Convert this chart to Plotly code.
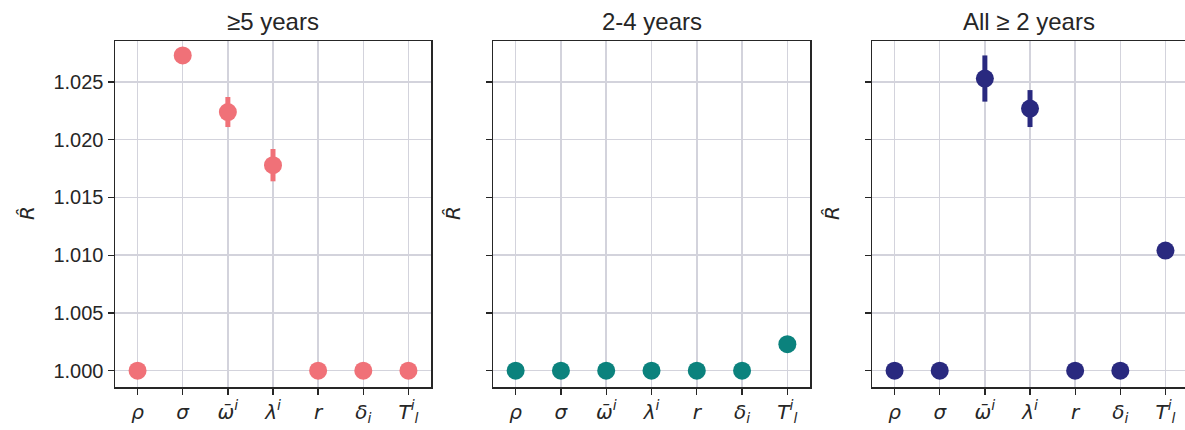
import plotly.graph_objects as go

params = ["<i>ρ</i>", "<i>σ</i>", "<i>ω̄<sup>i</sup></i>", "<i>λ<sup>i</sup></i>",
          "<i>r</i>", "<i>δ<sub>i</sub></i>", "<i>T<sup>i</sup><sub>l</sub></i>"]
panel_titles = ["≥5 years", "2-4 years", "All ≥ 2 years"]

rhat_5plus = [1.0000, 1.0273, 1.0224, 1.0178, 1.0000, 1.0000, 1.0000]
err_5plus = [0.0, 0.0, 0.0013, 0.0014, 0.0, 0.0, 0.0]
rhat_2to4 = [1.0000, 1.0000, 1.0000, 1.0000, 1.0000, 1.0000, 1.0023]
err_2to4 = [0.0, 0.0, 0.0, 0.0, 0.0, 0.0, 0.0006]
rhat_all = [1.0000, 1.0000, 1.0253, 1.0227, 1.0000, 1.0000, 1.0104]
err_all = [0.0, 0.0, 0.0020, 0.0016, 0.0, 0.0, 0.0]

colors = ["#f07178", "#0b827d", "#29297f"]
y_ticks = [1.000, 1.005, 1.010, 1.015, 1.020, 1.025]

W, H = 1185, 430
xdoms = [(115, 431), (493, 810), (872, 1185)]
ytop, ybot = 41, 387

fig = go.Figure()
series = [(rhat_5plus, err_5plus), (rhat_2to4, err_2to4), (rhat_all, err_all)]
for i, (vals, errs) in enumerate(series):
    ax = "" if i == 0 else str(i + 1)
    fig.add_trace(go.Scatter(
        x=list(range(len(params))), y=vals, mode="markers",
        marker=dict(size=18, color=colors[i]),
        error_y=dict(type="data", array=errs, visible=True, thickness=5,
                     width=0, color=colors[i]),
        xaxis="x" + ax, yaxis="y" + ax, showlegend=False))

layout = dict(width=W, height=H, margin=dict(l=0, r=0, t=0, b=0),
              plot_bgcolor="white", paper_bgcolor="white",
              font=dict(family="Liberation Sans, Arial, sans-serif", color="#262626"))
annotations = []
for i in range(3):
    ax = "" if i == 0 else str(i + 1)
    x0, x1 = xdoms[i]
    xr_max = 6.5 if i < 2 else 6.5 - (1188 - 1185) / ((x1 - x0) / 7)
    layout["xaxis" + ax] = dict(
        domain=[x0 / W, x1 / W], range=[-0.5, xr_max],
        tickmode="array", tickvals=list(range(len(params))), ticktext=params,
        showgrid=True, gridcolor="#d3d3dc", gridwidth=1.5,
        showline=True, linecolor="#262626", linewidth=1.5, mirror=True,
        ticks="outside", ticklen=6, tickwidth=1.3, tickcolor="#262626",
        tickfont=dict(size=20, family="DejaVu Sans, sans-serif"),
        anchor="y" + ax, zeroline=False, automargin=False, fixedrange=True)
    layout["yaxis" + ax] = dict(
        domain=[(H - ybot) / H, (H - ytop) / H], range=[0.99859, 1.02855],
        tickmode="array", tickvals=y_ticks, tickformat=".3f",
        showticklabels=(i == 0),
        showgrid=True, gridcolor="#d3d3dc", gridwidth=1.5,
        showline=True, linecolor="#262626", linewidth=1.5, mirror=(i < 2),
        ticks="outside", ticklen=6, tickwidth=1.3, tickcolor="#262626",
        tickfont=dict(size=20),
        anchor="x" + ax, zeroline=False, automargin=False, fixedrange=True)
    annotations.append(dict(
        text=panel_titles[i], x=(x0 + min(x1, x0 + 317)) / 2 / W, y=(H - 21) / H,
        xref="paper", yref="paper", showarrow=False, font=dict(size=24),
        xanchor="center", yanchor="middle"))
    ytitle_x = 27 if i == 0 else x0 - 40
    annotations.append(dict(
        text="<i>R̂</i>", x=ytitle_x / W, y=(H - 213) / H, xref="paper", yref="paper",
        showarrow=False, textangle=-90, font=dict(size=20, family="DejaVu Sans, sans-serif"),
        xanchor="center", yanchor="middle"))
layout["annotations"] = annotations
fig.update_layout(**layout)
fig.write_html("out.html", config={"displayModeBar": False, "staticPlot": True},
               post_script="document.body.style.margin='0';document.body.style.overflow='hidden';")
